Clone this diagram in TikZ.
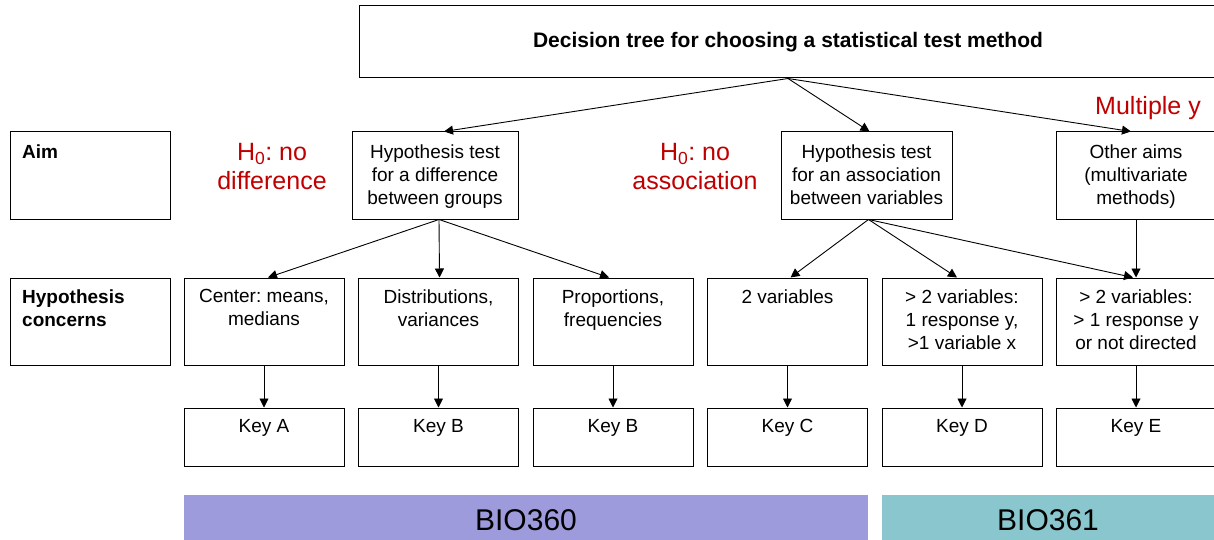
\documentclass[tikz,border=0pt]{standalone}
\usepackage{fontspec}
\setmainfont{Liberation Sans}
\usetikzlibrary{arrows.meta,fit,calc}
\definecolor{hred}{RGB}{192,0,0}
\definecolor{bpurple}{RGB}{158,155,220}
\definecolor{bteal}{RGB}{138,198,206}
\newcommand\bx[5]{\node[box, fit={(#2,#3) (#4,#5)}] (#1) {};}
\frenchspacing
\begin{document}
\begin{tikzpicture}[x=1pt,y=-1pt,
  box/.style={draw, line width=1pt, inner sep=0pt, rectangle},
  txt/.style={inner sep=0pt, align=center, font=\fontsize{19}{23}\selectfont},
  lbl/.style={inner sep=0pt, align=left, font=\fontsize{19}{23}\selectfont\bfseries},
  redt/.style={inner sep=0pt, align=center, text=hred, font=\fontsize{25}{29}\selectfont},
  bio/.style={inner sep=0pt, font=\fontsize{30}{34}\selectfont},
  arr/.style={-{Triangle[length=9pt,width=9pt]}, line width=0.9pt}]
\fill[white] (0,0) rectangle (1214,540);
\useasboundingbox (0,0) rectangle (1214,540);

% title
\bx{title}{359}{6}{1217}{78}
\node[inner sep=0pt, font=\fontsize{21}{25}\selectfont\bfseries, anchor=base] (titlet) at (788,48) {Decision tree for choosing a statistical test method};

% row 1
\bx{aim}{10}{132}{170}{219}
\node[lbl, anchor=north west] (aimt) at (22,145) {Aim};
\bx{h1}{352}{132}{518}{219}
\node[txt, anchor=north] (h1t) at ($(h1.north)+(0,13)$) {Hypothesis test\\for a difference\\between groups};
\bx{h2}{781}{132}{952}{219}
\node[txt, anchor=north] (h2t) at ($(h2.north)+(0,13)$) {Hypothesis test\\for an association\\between variables};
\bx{h3}{1056}{132}{1216}{219}
\node[txt, anchor=north] (h3t) at ($(h3.north)+(0,13)$) {Other aims\\(multivariate\\methods)};

\node[redt, anchor=north] (r1) at (272,143) {H\textsubscript{0}: no\\difference};
\node[redt, anchor=north] (r2) at (695,143) {H\textsubscript{0}: no\\association};
\node[redt, anchor=base east] (r3) at (1201,115) {Multiple y};

% row 2
\bx{hc}{10}{278}{170}{365}
\node[lbl, anchor=north west] (hct) at (22,290) {Hypothesis\\concerns};
\bx{c1}{184}{278}{344}{365}
\bx{c2}{358.5}{278}{518.5}{365}
\bx{c3}{533}{278}{693}{365}
\bx{c4}{707.5}{278}{867.5}{365}
\bx{c5}{882}{278}{1042}{365}
\bx{c6}{1056}{278}{1216}{365}
\node[txt, anchor=north] (c1t) at ($(c1.north)+(0,12)$) {Center: means,\\medians};
\node[txt, anchor=north] (c2t) at ($(c2.north)+(0,12)$) {Distributions,\\variances};
\node[txt, anchor=north] (c3t) at ($(c3.north)+(0,12)$) {Proportions,\\frequencies};
\node[txt, anchor=north] (c4t) at ($(c4.north)+(0,12)$) {2 variables};
\node[txt, anchor=north] (c5t) at ($(c5.north)+(0,12)$) {> 2 variables:\\1 response y,\\>1 variable x};
\node[txt, anchor=north] (c6t) at ($(c6.north)+(0,12)$) {> 2 variables:\\> 1 response y\\or not directed};

% row 3
\bx{k1}{184}{408}{344}{466}
\bx{k2}{358.5}{408}{518.5}{466}
\bx{k3}{533}{408}{693}{466}
\bx{k4}{707.5}{408}{867.5}{466}
\bx{k5}{882}{408}{1042}{466}
\bx{k6}{1056}{408}{1216}{466}
\node[txt, anchor=north] (k1t) at ($(k1.north)+(0,12)$) {Key A};
\node[txt, anchor=north] (k2t) at ($(k2.north)+(0,12)$) {Key B};
\node[txt, anchor=north] (k3t) at ($(k3.north)+(0,12)$) {Key B};
\node[txt, anchor=north] (k4t) at ($(k4.north)+(0,12)$) {Key C};
\node[txt, anchor=north] (k5t) at ($(k5.north)+(0,12)$) {Key D};
\node[txt, anchor=north] (k6t) at ($(k6.north)+(0,12)$) {Key E};

% bars
\node[fill=bpurple, inner sep=0pt, fit={(184,495) (868,541)}] (b1) {};
\node[fill=bteal, inner sep=0pt, fit={(882,495) (1216,541)}] (b2) {};
\node[bio] (b1t) at (526,520) {BIO360};
\node[bio] (b2t) at (1048,520) {BIO361};

% arrows
\draw[arr] (title.south) -- ($(h1.north)+(9,0)$);
\draw[arr] (title.south) -- ($(h2.north)+(3,0)$);
\draw[arr] (title.south) -- ($(h3.north)+(-5,0)$);
\draw[arr] ($(h1.south)+(4,0)$) -- ($(c1.north)+(4,0)$);
\draw[arr] ($(h1.south)+(4,0)$) -- ($(c2.north)+(1,0)$);
\draw[arr] ($(h1.south)+(4,0)$) -- ($(c3.north)+(-4,0)$);
\draw[arr] ($(h2.south)+(2,0)$) -- ($(c4.north)+(3,0)$);
\draw[arr] ($(h2.south)+(2,0)$) -- ($(c5.north)+(-5,0)$);
\draw[arr] ($(h2.south)+(2,0)$) -- ($(c6.north)+(-3,0)$);
\draw[arr] (h3.south) -- (c6.north);
\foreach \i in {1,...,6} {\draw[arr] (c\i.south) -- (k\i.north);}
\end{tikzpicture}
\end{document}
